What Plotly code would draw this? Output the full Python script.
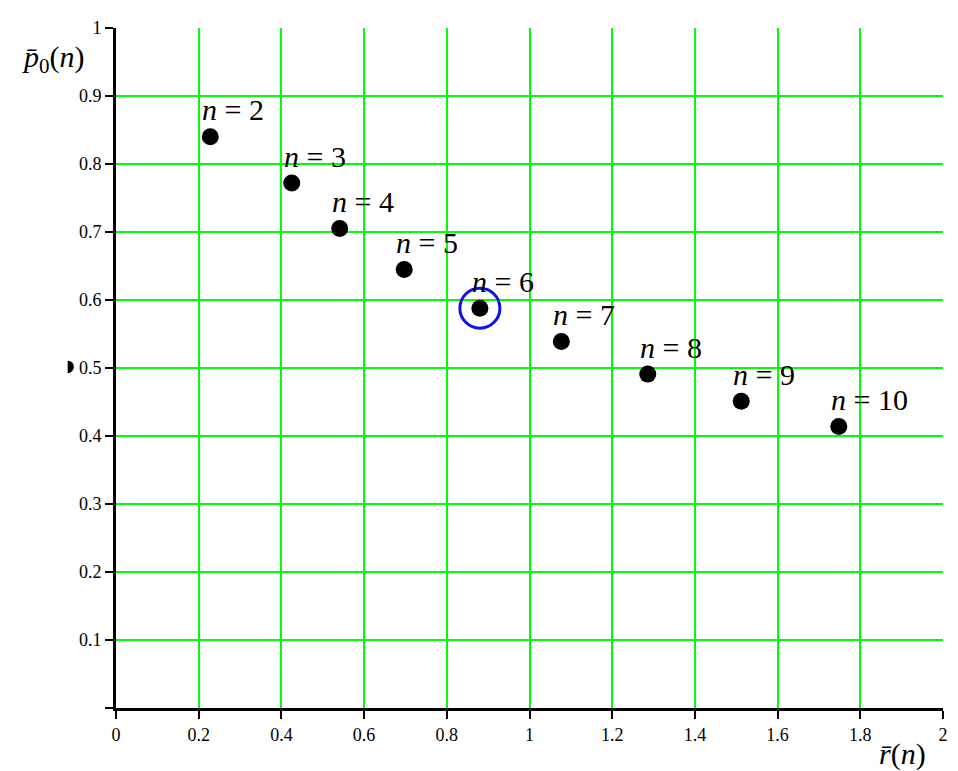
import plotly.graph_objects as go

# 数据：r̄(n) 与 p̄0(n)
n_values = [2, 3, 4, 5, 6, 7, 8, 9, 10]
r_mean = [0.228, 0.425, 0.541, 0.697, 0.880, 1.077, 1.286, 1.512, 1.748]
p0_mean = [0.840, 0.772, 0.705, 0.645, 0.588, 0.539, 0.491, 0.451, 0.414]
highlight_n = 6

x_ticks = [0, 0.2, 0.4, 0.6, 0.8, 1, 1.2, 1.4, 1.6, 1.8, 2]
y_ticks = [0, 0.1, 0.2, 0.3, 0.4, 0.5, 0.6, 0.7, 0.8, 0.9, 1]
y_ticktext = [""] + [f"{v:g}" for v in y_ticks[1:]]  # 0 处只画刻度不写字

SERIF = "'Liberation Serif', 'Times New Roman', Times, serif"

fig = go.Figure()

# 黑色数据点
fig.add_trace(go.Scatter(
    x=r_mean, y=p0_mean, mode="markers",
    marker=dict(color="black", size=17),
    showlegend=False, hoverinfo="x+y",
))

# 高亮 n = 6
i6 = n_values.index(highlight_n)
fig.add_trace(go.Scatter(
    x=[r_mean[i6]], y=[p0_mean[i6]], mode="markers",
    marker=dict(symbol="circle-open", color="#1010ee", size=40,
                line=dict(width=3, color="#1010ee")),
    showlegend=False, hoverinfo="skip",
))

# 点标签
for n, x, y in zip(n_values, r_mean, p0_mean):
    fig.add_annotation(
        x=x, y=y, text=f"<i>n</i> = {n}", showarrow=False,
        xanchor="left", yanchor="middle", xshift=-10, yshift=27,
        font=dict(family=SERIF, size=30, color="black"),
    )

# 坐标轴标题
fig.add_annotation(
    xref="paper", yref="paper", x=-0.0755, y=0.954,
    text="<i>p\u0304</i><sub>0</sub>(<i>n</i>)", showarrow=False,
    xanchor="center", yanchor="middle",
    font=dict(family=SERIF, size=30, color="black"),
)
fig.add_annotation(
    xref="paper", yref="paper", x=0.951, y=-0.068,
    text="<i>r\u0304</i>(<i>n</i>)", showarrow=False,
    xanchor="center", yanchor="middle",
    font=dict(family=SERIF, size=30, color="black"),
)
fig.add_annotation(
    xref="paper", yref="paper", x=-0.0554, y=0.504,
    text="\u25D7", showarrow=False, xanchor="center", yanchor="middle",
    font=dict(family="DejaVu Sans", size=16, color="black"),
)

fig.update_xaxes(
    range=[0, 2], tickvals=x_ticks, ticktext=[f"{v:g}" for v in x_ticks],
    showgrid=True, gridcolor="#00ff00", gridwidth=2,
    showline=True, linecolor="black", linewidth=3,
    ticks="outside", ticklen=8, tickwidth=2, tickcolor="black",
    tickfont=dict(family=SERIF, size=18, color="black"),
    zeroline=False,
)
fig.update_yaxes(
    range=[0, 1], tickvals=y_ticks, ticktext=y_ticktext,
    showgrid=True, gridcolor="#00ff00", gridwidth=2,
    showline=True, linecolor="black", linewidth=3,
    ticks="outside", ticklen=8, tickwidth=2, tickcolor="black",
    tickfont=dict(family=SERIF, size=18, color="black"),
    zeroline=False,
)

# 页面 body 有 8px 边距，图本身缩小以适配 958x771 窗口
fig.update_layout(
    width=950, height=763,
    margin=dict(l=108, r=12, t=10, b=63),
    plot_bgcolor="white", paper_bgcolor="white",
)

fig.write_html("out.html")
